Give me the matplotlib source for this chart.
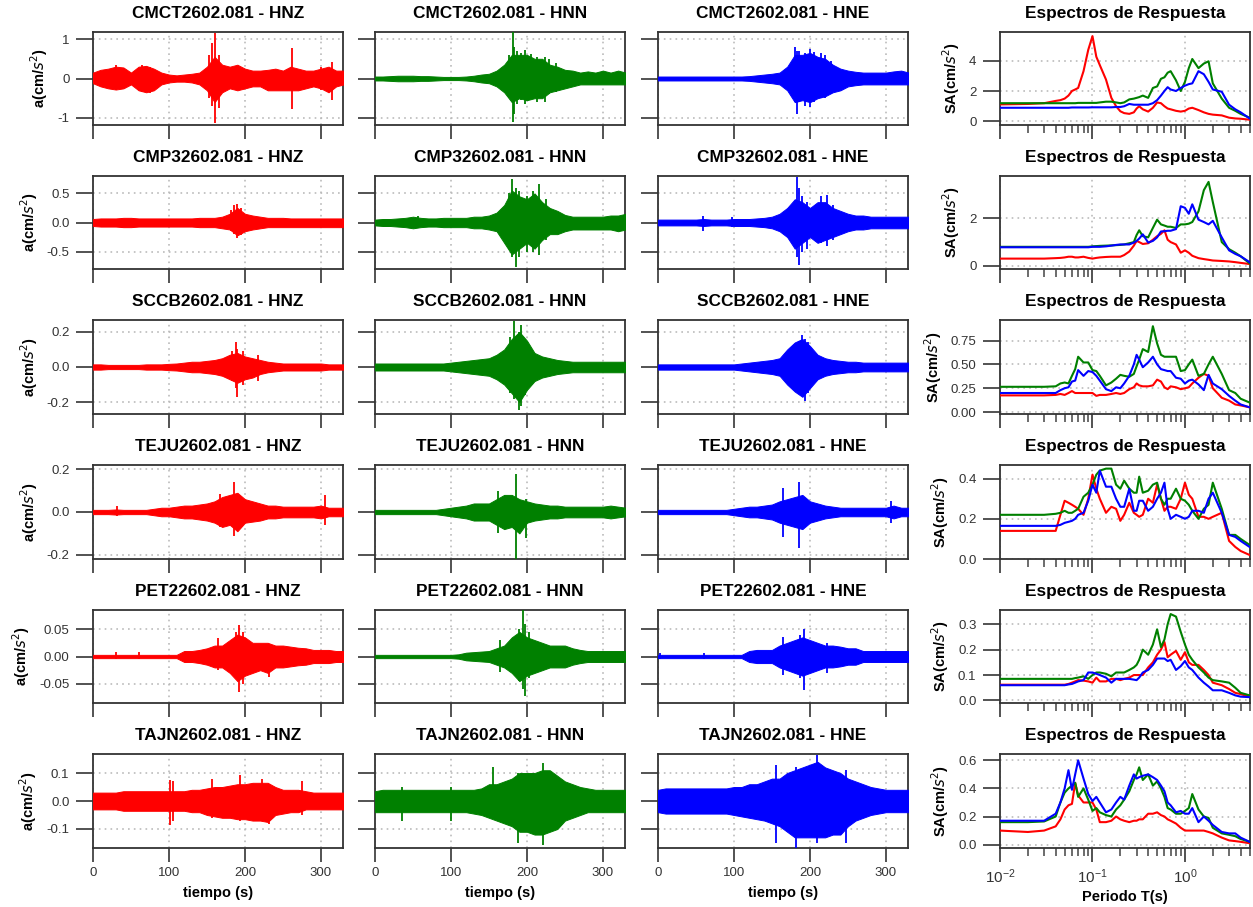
import numpy as np
import matplotlib
matplotlib.use("Agg")
import matplotlib.pyplot as plt
from matplotlib.ticker import FixedLocator, NullFormatter, LogFormatterMathtext

plt.rcParams['font.family'] = ['Liberation Sans', 'DejaVu Sans']

# ---------------- data ----------------
stations = ["CMCT2602.081", "CMP32602.081", "SCCB2602.081", "TEJU2602.081", "PET22602.081", "TAJN2602.081"]
components = ["HNZ", "HNN", "HNE"]
comp_colors = ["#FF0000", "#008000", "#0000FF"]

# time grid of the envelope readings (s)
t_grid = list(range(0, 331, 10))

# envelopes (upper / lower) and isolated peaks (time, upper, lower)
cmct_z_up = [0.15,0.22,0.25,0.30,0.28,0.15,0.30,0.32,0.25,0.15, 0.10,0.08,0.10,0.12,0.15,0.30,0.55,0.35,0.30,0.35, 0.25,0.20,0.20,0.22,0.25,0.20,0.30,0.25,0.20,0.20, 0.25,0.30,0.20,0.20]
cmct_z_lo = [-0.12,-0.20,-0.25,-0.28,-0.25,-0.15,-0.30,-0.35,-0.30,-0.15, -0.10,-0.08,-0.08,-0.10,-0.15,-0.30,-0.60,-0.35,-0.25,-0.30, -0.25,-0.20,-0.20,-0.30,-0.30,-0.30,-0.30,-0.30,-0.25,-0.20, -0.25,-0.35,-0.20,-0.15]
cmct_z_pk = [[30,65,75,153,157,160,166,262,300,315],
             [0.33,0.35,0.30,0.60,0.90,1.15,0.60,0.78,0.30,0.42],
             [-0.28,-0.35,-0.38,-0.50,-0.70,-1.12,-0.75,-0.78,-0.30,-0.55]]

cmct_n_up = [0.05,0.05,0.06,0.07,0.07,0.07,0.06,0.06,0.05,0.04, 0.04,0.04,0.05,0.07,0.10,0.12,0.20,0.35,0.60,0.60, 0.60,0.50,0.50,0.35,0.30,0.22,0.20,0.15,0.18,0.15, 0.20,0.15,0.20,0.15]
cmct_n_lo = [-0.05,-0.05,-0.06,-0.07,-0.07,-0.07,-0.06,-0.06,-0.05,-0.04, -0.04,-0.04,-0.05,-0.07,-0.10,-0.12,-0.20,-0.35,-0.60,-0.50, -0.55,-0.50,-0.50,-0.35,-0.30,-0.25,-0.20,-0.15,-0.15,-0.15, -0.15,-0.15,-0.15,-0.15]
cmct_n_pk = [[176,181,183,187,192,197,205,213,224,229,238],
             [0.60,1.20,0.80,0.70,0.65,0.72,0.62,0.55,0.55,0.50,0.40],
             [-0.50,-1.10,-0.90,-0.65,-0.55,-0.64,-0.50,-0.60,-0.60,-0.40,-0.35]]

cmct_e_up = [0.05,0.05,0.05,0.05,0.05,0.05,0.05,0.05,0.05,0.05, 0.05,0.05,0.06,0.08,0.10,0.12,0.15,0.30,0.60,0.60, 0.65,0.55,0.50,0.35,0.25,0.20,0.17,0.15,0.15,0.15, 0.15,0.18,0.20,0.15]
cmct_e_lo = [-0.05,-0.05,-0.05,-0.05,-0.05,-0.05,-0.05,-0.05,-0.05,-0.05, -0.05,-0.05,-0.06,-0.08,-0.10,-0.12,-0.15,-0.30,-0.60,-0.55, -0.60,-0.50,-0.45,-0.35,-0.30,-0.20,-0.17,-0.15,-0.15,-0.15, -0.15,-0.15,-0.15,-0.15]
cmct_e_pk = [[180,183,186,193,200,205,214,220,228],
             [0.80,0.70,0.70,0.65,0.75,0.68,0.64,0.60,0.45],
             [-0.60,-0.89,-0.60,-0.70,-0.72,-0.60,-0.50,-0.50,-0.40]]

cmp3_z_up = [0.06,0.07,0.07,0.07,0.08,0.08,0.07,0.07,0.07,0.07, 0.07,0.07,0.07,0.07,0.08,0.08,0.08,0.10,0.15,0.25, 0.15,0.12,0.10,0.08,0.08,0.08,0.07,0.07,0.07,0.07, 0.07,0.07,0.07,0.07]
cmp3_z_lo = [-0.06,-0.07,-0.07,-0.07,-0.08,-0.08,-0.07,-0.07,-0.07,-0.07, -0.07,-0.07,-0.07,-0.07,-0.08,-0.08,-0.08,-0.10,-0.12,-0.22, -0.15,-0.12,-0.10,-0.08,-0.08,-0.08,-0.08,-0.08,-0.08,-0.08, -0.08,-0.08,-0.08,-0.08]
cmp3_z_pk = [[182,186,190,195], [0.22,0.30,0.31,0.25], [-0.15,-0.20,-0.27,-0.22]]

cmp3_n_up = [0.05,0.06,0.06,0.07,0.08,0.10,0.08,0.07,0.07,0.08, 0.08,0.08,0.08,0.10,0.10,0.12,0.17,0.30,0.55,0.45, 0.40,0.50,0.35,0.25,0.20,0.13,0.10,0.10,0.10,0.10, 0.10,0.12,0.12,0.15]
cmp3_n_lo = [-0.05,-0.06,-0.06,-0.07,-0.08,-0.10,-0.08,-0.07,-0.07,-0.08, -0.08,-0.08,-0.08,-0.10,-0.10,-0.12,-0.15,-0.35,-0.55,-0.45, -0.35,-0.45,-0.30,-0.20,-0.20,-0.15,-0.12,-0.12,-0.12,-0.12, -0.12,-0.12,-0.15,-0.12]
cmp3_n_pk = [[57,176,180,185,190,200,208,216,225],
             [0.12,0.50,0.75,0.60,0.55,0.45,0.55,0.67,0.40],
             [-0.10,-0.45,-0.60,-0.77,-0.60,-0.50,-0.50,-0.56,-0.30]]

cmp3_e_up = [0.05,0.05,0.05,0.05,0.05,0.05,0.06,0.05,0.05,0.05, 0.06,0.06,0.06,0.07,0.08,0.10,0.15,0.25,0.40,0.35, 0.25,0.35,0.35,0.25,0.20,0.15,0.12,0.12,0.10,0.10, 0.10,0.10,0.10,0.10]
cmp3_e_lo = [-0.05,-0.05,-0.05,-0.05,-0.05,-0.05,-0.06,-0.05,-0.05,-0.05, -0.06,-0.06,-0.06,-0.07,-0.08,-0.10,-0.15,-0.25,-0.45,-0.35, -0.25,-0.35,-0.30,-0.25,-0.20,-0.15,-0.12,-0.12,-0.10,-0.10, -0.10,-0.10,-0.10,-0.10]
cmp3_e_pk = [[59,98,183,186,190,196,215,223,230],
             [0.12,0.10,0.78,0.60,0.45,0.35,0.45,0.47,0.30],
             [-0.15,-0.08,-0.60,-0.73,-0.50,-0.45,-0.35,-0.40,-0.30]]

sccb_z_up = [0.015,0.015,0.012,0.012,0.012,0.012,0.012,0.015,0.015,0.015, 0.018,0.020,0.025,0.030,0.030,0.035,0.040,0.050,0.070,0.080, 0.060,0.050,0.040,0.030,0.025,0.020,0.020,0.020,0.020,0.020, 0.020,0.015,0.015,0.015]
sccb_z_lo = [-0.015,-0.015,-0.012,-0.012,-0.012,-0.012,-0.012,-0.015,-0.015,-0.015, -0.018,-0.020,-0.025,-0.030,-0.030,-0.035,-0.040,-0.050,-0.070,-0.090, -0.070,-0.060,-0.040,-0.030,-0.025,-0.020,-0.020,-0.020,-0.020,-0.020, -0.020,-0.015,-0.015,-0.015]
sccb_z_pk = [[183,188,190,197,217], [0.09,0.14,0.10,0.09,0.07], [-0.08,-0.12,-0.17,-0.10,-0.08]]

sccb_n_up = [0.020,0.020,0.020,0.020,0.020,0.020,0.020,0.020,0.020,0.020, 0.025,0.030,0.035,0.040,0.045,0.050,0.070,0.100,0.160,0.200, 0.150,0.080,0.060,0.050,0.040,0.035,0.030,0.030,0.030,0.030, 0.030,0.030,0.030,0.030]
sccb_n_lo = [-0.020,-0.020,-0.020,-0.020,-0.020,-0.020,-0.020,-0.020,-0.020,-0.020, -0.025,-0.030,-0.035,-0.040,-0.045,-0.050,-0.070,-0.100,-0.150,-0.200, -0.130,-0.080,-0.060,-0.050,-0.040,-0.035,-0.030,-0.030,-0.030,-0.030, -0.030,-0.030,-0.030,-0.030]
sccb_n_pk = [[178,183,189,192,198], [0.17,0.26,0.20,0.24,0.16], [-0.15,-0.18,-0.245,-0.22,-0.16]]

sccb_e_up = [0.015,0.015,0.015,0.015,0.015,0.015,0.015,0.015,0.015,0.015, 0.015,0.020,0.025,0.030,0.035,0.040,0.050,0.100,0.140,0.160, 0.120,0.070,0.050,0.040,0.035,0.030,0.030,0.025,0.025,0.025, 0.025,0.025,0.025,0.025]
sccb_e_lo = [-0.015,-0.015,-0.015,-0.015,-0.015,-0.015,-0.015,-0.015,-0.015,-0.015, -0.015,-0.020,-0.025,-0.030,-0.035,-0.040,-0.050,-0.100,-0.140,-0.170, -0.120,-0.070,-0.050,-0.040,-0.035,-0.030,-0.030,-0.025,-0.025,-0.025, -0.025,-0.025,-0.025,-0.025]
sccb_e_pk = [[185,190,193,198], [0.15,0.18,0.16,0.14], [-0.15,-0.16,-0.195,-0.15]]

teju_z_up = [0.010,0.010,0.010,0.012,0.010,0.010,0.010,0.010,0.015,0.020, 0.020,0.025,0.030,0.030,0.035,0.040,0.050,0.070,0.080,0.090, 0.060,0.050,0.040,0.030,0.030,0.025,0.025,0.025,0.025,0.025, 0.030,0.020,0.020,0.020]
teju_z_lo = [-0.010,-0.010,-0.010,-0.012,-0.010,-0.010,-0.010,-0.010,-0.015,-0.020, -0.020,-0.025,-0.030,-0.030,-0.035,-0.040,-0.050,-0.070,-0.060,-0.090, -0.050,-0.045,-0.040,-0.030,-0.030,-0.025,-0.025,-0.025,-0.025,-0.025, -0.030,-0.020,-0.020,-0.020]
teju_z_pk = [[32,167,186,305], [0.03,0.083,0.14,0.08], [-0.02,-0.07,-0.113,-0.06]]

teju_n_up = [0.010,0.010,0.010,0.010,0.010,0.010,0.010,0.010,0.010,0.015, 0.020,0.025,0.030,0.040,0.040,0.040,0.060,0.080,0.080,0.060, 0.050,0.040,0.035,0.030,0.030,0.025,0.025,0.025,0.025,0.025, 0.025,0.030,0.025,0.020]
teju_n_lo = [-0.010,-0.010,-0.010,-0.010,-0.010,-0.010,-0.010,-0.010,-0.010,-0.015, -0.020,-0.025,-0.030,-0.040,-0.040,-0.040,-0.060,-0.080,-0.070,-0.100, -0.050,-0.040,-0.035,-0.030,-0.030,-0.025,-0.025,-0.025,-0.025,-0.025, -0.025,-0.030,-0.025,-0.020]
teju_n_pk = [[162,185,199], [0.1,0.178,0.06], [-0.1,-0.218,-0.12]]

teju_e_up = [0.010,0.010,0.010,0.010,0.010,0.010,0.010,0.010,0.010,0.010, 0.015,0.020,0.025,0.025,0.030,0.035,0.050,0.060,0.070,0.080, 0.050,0.040,0.030,0.025,0.020,0.020,0.020,0.020,0.020,0.020, 0.020,0.030,0.020,0.020]
teju_e_lo = [-0.010,-0.010,-0.010,-0.010,-0.010,-0.010,-0.010,-0.010,-0.010,-0.010, -0.015,-0.020,-0.025,-0.025,-0.030,-0.035,-0.050,-0.060,-0.070,-0.080, -0.050,-0.040,-0.030,-0.025,-0.020,-0.020,-0.020,-0.020,-0.020,-0.020, -0.020,-0.030,-0.020,-0.020]
teju_e_pk = [[164,185,306], [0.114,0.142,0.05], [-0.116,-0.167,-0.05]]

pet2_z_up = [0.003,0.003,0.003,0.003,0.003,0.003,0.003,0.003,0.003,0.003, 0.003,0.003,0.010,0.010,0.012,0.015,0.020,0.020,0.030,0.040, 0.035,0.025,0.025,0.025,0.020,0.020,0.018,0.016,0.015,0.012, 0.012,0.012,0.010,0.010]
pet2_z_lo = [-0.003,-0.003,-0.003,-0.003,-0.003,-0.003,-0.003,-0.003,-0.003,-0.003, -0.003,-0.003,-0.010,-0.010,-0.012,-0.015,-0.020,-0.020,-0.030,-0.045, -0.035,-0.030,-0.025,-0.030,-0.020,-0.020,-0.018,-0.016,-0.015,-0.012, -0.012,-0.012,-0.010,-0.010]
pet2_z_pk = [[30,60,165,188,192,197,232], [0.008,0.008,0.033,0.045,0.057,0.045,0.02], [-0.005,-0.005,-0.025,-0.04,-0.064,-0.05,-0.037]]

pet2_n_up = [0.003,0.003,0.003,0.003,0.003,0.003,0.003,0.003,0.003,0.003, 0.003,0.004,0.007,0.008,0.009,0.010,0.015,0.020,0.035,0.045, 0.035,0.030,0.025,0.020,0.020,0.020,0.015,0.012,0.010,0.010, 0.010,0.010,0.010,0.010]
pet2_n_lo = [-0.003,-0.003,-0.003,-0.003,-0.003,-0.003,-0.003,-0.003,-0.003,-0.003, -0.003,-0.004,-0.007,-0.008,-0.009,-0.010,-0.015,-0.020,-0.030,-0.045, -0.035,-0.030,-0.025,-0.020,-0.020,-0.020,-0.015,-0.012,-0.010,-0.010, -0.010,-0.010,-0.010,-0.010]
pet2_n_pk = [[165,190,195,197,203], [0.03,0.05,0.087,0.06,0.045], [-0.028,-0.045,-0.06,-0.073,-0.04]]

pet2_e_up = [0.003,0.003,0.003,0.003,0.003,0.003,0.003,0.003,0.003,0.003, 0.003,0.003,0.010,0.012,0.012,0.012,0.020,0.025,0.030,0.035, 0.030,0.025,0.020,0.020,0.018,0.015,0.015,0.010,0.010,0.010, 0.010,0.010,0.010,0.010]
pet2_e_lo = [-0.003,-0.003,-0.003,-0.003,-0.003,-0.003,-0.003,-0.003,-0.003,-0.003, -0.003,-0.003,-0.010,-0.012,-0.012,-0.012,-0.020,-0.025,-0.030,-0.035, -0.030,-0.025,-0.020,-0.020,-0.018,-0.015,-0.015,-0.010,-0.010,-0.010, -0.010,-0.010,-0.010,-0.010]
pet2_e_pk = [[3,60,165,187,192,223], [0.007,0.006,0.035,0.04,0.05,0.025], [-0.005,-0.005,-0.034,-0.04,-0.061,-0.03]]

tajn_z_up = [0.030,0.030,0.030,0.030,0.035,0.035,0.035,0.035,0.035,0.035, 0.035,0.035,0.035,0.040,0.040,0.045,0.050,0.050,0.055,0.060, 0.060,0.065,0.065,0.065,0.050,0.040,0.040,0.040,0.035,0.030, 0.030,0.030,0.030,0.030]
tajn_z_lo = [-0.030,-0.030,-0.030,-0.030,-0.035,-0.035,-0.035,-0.035,-0.035,-0.035, -0.035,-0.035,-0.035,-0.040,-0.040,-0.050,-0.055,-0.060,-0.060,-0.065, -0.065,-0.070,-0.070,-0.075,-0.050,-0.045,-0.040,-0.040,-0.030,-0.030, -0.030,-0.030,-0.030,-0.030]
tajn_z_pk = [[101,105,156,193,222,232,275], [0.074,0.07,0.08,0.094,0.08,0.06,0.07], [-0.087,-0.07,-0.06,-0.07,-0.06,-0.081,-0.05]]

tajn_n_up = [0.035,0.040,0.040,0.040,0.040,0.040,0.040,0.040,0.040,0.040, 0.040,0.040,0.040,0.040,0.045,0.060,0.060,0.070,0.080,0.100, 0.100,0.100,0.110,0.110,0.090,0.070,0.060,0.050,0.045,0.040, 0.040,0.040,0.040,0.040]
tajn_n_lo = [-0.040,-0.040,-0.040,-0.040,-0.040,-0.040,-0.040,-0.040,-0.040,-0.040, -0.040,-0.040,-0.040,-0.045,-0.050,-0.060,-0.070,-0.080,-0.090,-0.110, -0.110,-0.120,-0.120,-0.110,-0.100,-0.070,-0.060,-0.050,-0.040,-0.040, -0.040,-0.040,-0.040,-0.040]
tajn_n_pk = [[35,100,155,188,221], [0.05,0.05,0.12,0.1,0.136], [-0.07,-0.07,-0.06,-0.149,-0.158]]

tajn_e_up = [0.040,0.045,0.045,0.045,0.045,0.045,0.045,0.045,0.045,0.045, 0.050,0.050,0.060,0.060,0.070,0.080,0.080,0.100,0.110,0.120, 0.130,0.140,0.120,0.110,0.100,0.080,0.070,0.060,0.050,0.045, 0.040,0.040,0.040,0.040]
tajn_e_lo = [-0.040,-0.045,-0.045,-0.045,-0.045,-0.045,-0.045,-0.045,-0.045,-0.045, -0.050,-0.055,-0.060,-0.065,-0.070,-0.080,-0.090,-0.110,-0.130,-0.130, -0.130,-0.130,-0.130,-0.120,-0.120,-0.090,-0.070,-0.060,-0.050,-0.045, -0.040,-0.040,-0.040,-0.040]
tajn_e_pk = [[155,181,209,248], [0.13,0.12,0.165,0.11], [-0.149,-0.168,-0.15,-0.15]]

# response spectra: periods (s) and SA values (cm/s^2)
periods = [0.01,0.02,0.03,0.04,0.045,0.05,0.055,0.06,0.065,0.07,
           0.08,0.09,0.1,0.11,0.12,0.14,0.16,0.18,0.2,0.22,
           0.25,0.28,0.3,0.32,0.35,0.4,0.45,0.5,0.55,0.6,
           0.65,0.7,0.8,0.9,1.0,1.1,1.2,1.4,1.6,1.8,
           2.0,2.5,3.0,3.5,4.0,5.0]

sa_cmct_z = [1.12,1.15,1.2,1.35,1.4,1.5,1.7,2.0,2.1,2.2, 3.3,4.7,5.6,4.25,3.7,2.75,1.55,1.0,0.67,0.55, 0.5,0.6,0.85,1.0,0.8,0.65,0.9,1.25,1.2,1.0, 0.85,0.8,0.7,0.65,0.7,0.85,0.9,0.75,0.6,0.5, 0.45,0.4,0.25,0.2,0.18,0.12]
sa_cmct_n = [1.2,1.2,1.2,1.2,1.2,1.2,1.2,1.2,1.2,1.22, 1.22,1.22,1.22,1.22,1.25,1.3,1.3,1.25,1.2,1.25, 1.45,1.5,1.55,1.6,1.7,1.55,2.2,2.3,2.8,2.9, 3.2,3.3,2.7,2.0,2.6,3.5,4.1,3.5,3.8,3.95, 2.5,1.5,0.9,0.7,0.5,0.25]
sa_cmct_e = [0.9,0.9,0.9,0.9,0.9,0.9,0.9,0.92,0.92,0.92, 0.92,0.92,0.93,0.93,0.93,0.93,0.93,0.95,0.95,1.0, 1.15,1.1,1.1,1.1,1.1,1.1,1.2,1.4,1.7,2.0, 2.25,2.1,2.0,2.2,2.35,2.45,2.5,3.3,3.1,2.6, 2.1,1.95,1.1,0.8,0.6,0.2]

sa_cmp3_z = [0.3,0.3,0.3,0.32,0.33,0.35,0.38,0.38,0.35,0.35, 0.38,0.33,0.3,0.33,0.35,0.37,0.38,0.38,0.38,0.45, 0.6,0.85,1.05,1.0,0.92,0.95,1.1,1.25,1.35,1.5, 1.1,1.0,0.9,0.55,0.65,0.55,0.42,0.32,0.28,0.25, 0.22,0.2,0.18,0.15,0.12,0.07]
sa_cmp3_n = [0.8,0.8,0.8,0.8,0.8,0.8,0.8,0.8,0.8,0.8, 0.8,0.8,0.82,0.83,0.84,0.85,0.86,0.87,0.88,0.9, 0.95,1.0,1.3,1.5,1.25,1.2,1.6,1.95,1.75,1.7, 1.65,1.65,1.6,1.75,1.75,1.78,1.85,2.3,3.2,3.55, 2.7,1.0,0.7,0.55,0.4,0.1]
sa_cmp3_e = [0.78,0.78,0.78,0.78,0.78,0.78,0.78,0.78,0.78,0.78, 0.78,0.78,0.8,0.8,0.8,0.82,0.85,0.88,0.9,0.9, 0.9,0.98,1.05,1.15,1.33,0.98,1.05,1.2,1.45,1.46, 1.48,1.48,1.55,2.52,2.45,2.2,2.6,1.95,1.85,1.75, 1.9,1.2,0.65,0.5,0.4,0.15]

sa_sccb_z = [0.175,0.175,0.175,0.18,0.19,0.18,0.2,0.22,0.2,0.2, 0.2,0.2,0.2,0.17,0.18,0.18,0.19,0.2,0.19,0.2, 0.24,0.26,0.3,0.28,0.27,0.27,0.28,0.34,0.32,0.26, 0.24,0.27,0.26,0.24,0.25,0.26,0.3,0.36,0.4,0.38, 0.25,0.15,0.12,0.08,0.07,0.05]
sa_sccb_n = [0.265,0.265,0.265,0.27,0.3,0.31,0.3,0.38,0.45,0.58, 0.52,0.52,0.44,0.43,0.38,0.28,0.31,0.35,0.39,0.38, 0.37,0.4,0.48,0.55,0.66,0.63,0.9,0.72,0.6,0.58, 0.58,0.58,0.58,0.43,0.44,0.5,0.55,0.38,0.4,0.5, 0.58,0.4,0.23,0.2,0.14,0.1]
sa_sccb_e = [0.2,0.2,0.2,0.2,0.23,0.25,0.26,0.32,0.33,0.44, 0.38,0.43,0.42,0.38,0.33,0.24,0.22,0.26,0.25,0.3, 0.38,0.5,0.6,0.55,0.47,0.52,0.58,0.5,0.45,0.44, 0.43,0.43,0.36,0.35,0.3,0.33,0.34,0.29,0.23,0.39, 0.3,0.24,0.17,0.12,0.08,0.05]

sa_teju_z = [0.14,0.14,0.14,0.14,0.22,0.29,0.28,0.27,0.26,0.25, 0.22,0.3,0.42,0.35,0.3,0.23,0.26,0.25,0.19,0.22, 0.28,0.23,0.22,0.21,0.22,0.3,0.28,0.37,0.3,0.24, 0.26,0.26,0.25,0.3,0.38,0.32,0.3,0.21,0.21,0.2, 0.21,0.23,0.09,0.06,0.04,0.02]
sa_teju_n = [0.22,0.22,0.22,0.225,0.23,0.24,0.23,0.23,0.24,0.25, 0.31,0.33,0.37,0.42,0.44,0.45,0.45,0.37,0.35,0.39, 0.35,0.33,0.33,0.41,0.33,0.34,0.37,0.38,0.3,0.27, 0.3,0.3,0.35,0.3,0.29,0.27,0.24,0.2,0.25,0.27, 0.38,0.25,0.12,0.12,0.1,0.07]
sa_teju_e = [0.165,0.165,0.165,0.165,0.17,0.18,0.185,0.19,0.2,0.22, 0.23,0.29,0.37,0.33,0.44,0.36,0.36,0.3,0.26,0.26, 0.35,0.24,0.24,0.29,0.29,0.24,0.26,0.3,0.33,0.38, 0.25,0.2,0.22,0.21,0.2,0.21,0.24,0.24,0.23,0.3, 0.33,0.23,0.12,0.11,0.09,0.06]

sa_pet2_z = [0.062,0.062,0.062,0.062,0.062,0.062,0.065,0.07,0.075,0.08, 0.078,0.075,0.07,0.09,0.075,0.075,0.085,0.085,0.08,0.085, 0.09,0.1,0.1,0.1,0.1,0.13,0.15,0.18,0.2,0.23, 0.17,0.18,0.195,0.16,0.19,0.15,0.14,0.14,0.12,0.1, 0.07,0.06,0.045,0.03,0.025,0.015]
sa_pet2_n = [0.085,0.085,0.085,0.085,0.085,0.085,0.085,0.085,0.088,0.09, 0.095,0.085,0.1,0.11,0.11,0.105,0.095,0.11,0.11,0.11, 0.12,0.13,0.14,0.16,0.2,0.18,0.22,0.28,0.21,0.24, 0.3,0.34,0.33,0.27,0.22,0.18,0.16,0.13,0.11,0.09, 0.08,0.075,0.07,0.05,0.03,0.02]
sa_pet2_e = [0.06,0.06,0.06,0.06,0.06,0.06,0.063,0.065,0.07,0.075, 0.08,0.11,0.11,0.105,0.1,0.09,0.07,0.085,0.085,0.085, 0.085,0.082,0.08,0.09,0.11,0.12,0.14,0.165,0.165,0.165, 0.155,0.16,0.12,0.135,0.155,0.13,0.12,0.09,0.07,0.055, 0.04,0.04,0.03,0.02,0.015,0.013]

sa_tajn_z = [0.1,0.09,0.1,0.13,0.18,0.25,0.28,0.29,0.44,0.35, 0.3,0.3,0.3,0.25,0.16,0.16,0.17,0.2,0.18,0.17, 0.16,0.17,0.17,0.18,0.18,0.22,0.22,0.23,0.21,0.2, 0.18,0.17,0.15,0.12,0.1,0.1,0.1,0.1,0.1,0.09, 0.08,0.05,0.03,0.025,0.02,0.01]
sa_tajn_n = [0.16,0.16,0.165,0.2,0.3,0.37,0.4,0.42,0.44,0.34, 0.4,0.32,0.24,0.26,0.23,0.21,0.2,0.25,0.28,0.32, 0.38,0.46,0.5,0.55,0.46,0.5,0.42,0.45,0.4,0.34, 0.26,0.25,0.22,0.22,0.24,0.26,0.36,0.25,0.2,0.19, 0.12,0.08,0.07,0.06,0.04,0.02]
sa_tajn_e = [0.17,0.17,0.17,0.22,0.3,0.4,0.53,0.39,0.5,0.6, 0.47,0.36,0.31,0.34,0.3,0.23,0.25,0.3,0.34,0.32, 0.42,0.5,0.47,0.48,0.49,0.5,0.48,0.46,0.42,0.38, 0.3,0.28,0.23,0.24,0.22,0.22,0.26,0.16,0.2,0.17, 0.14,0.09,0.08,0.08,0.05,0.02]

# axis ticks per row
acc_ticks = [[-1, 0, 1], [-0.5, 0.0, 0.5], [-0.2, 0.0, 0.2], [-0.2, 0.0, 0.2], [-0.05, 0.00, 0.05], [-0.1, 0.0, 0.1]]
acc_ticklabels = [["-1", "0", "1"], ["-0.5", "0.0", "0.5"], ["-0.2", "0.0", "0.2"], ["-0.2", "0.0", "0.2"], ["-0.05", "0.00", "0.05"], ["-0.1", "0.0", "0.1"]]
acc_lim = [1.18, 0.80, 0.268, 0.22, 0.085, 0.168]
sa_ticks = [[0, 2, 4], [0, 2], [0, 0.25, 0.5, 0.75], [0.0, 0.2, 0.4], [0.0, 0.1, 0.2, 0.3], [0.0, 0.2, 0.4, 0.6]]
sa_ticklabels = [["0", "2", "4"], ["0", "2"], ["0.00", "0.25", "0.50", "0.75"], ["0.0", "0.2", "0.4"], ["0.0", "0.1", "0.2", "0.3"], ["0.0", "0.2", "0.4", "0.6"]]
sa_lim = [(-0.23, 5.87), (-0.14, 3.8), (-0.02, 0.965), (0.0, 0.468), (-0.01, 0.356), (-0.024, 0.645)]
time_ticks = [0, 100, 200, 300]

traces = [
    [(cmct_z_up, cmct_z_lo, cmct_z_pk), (cmct_n_up, cmct_n_lo, cmct_n_pk), (cmct_e_up, cmct_e_lo, cmct_e_pk)],
    [(cmp3_z_up, cmp3_z_lo, cmp3_z_pk), (cmp3_n_up, cmp3_n_lo, cmp3_n_pk), (cmp3_e_up, cmp3_e_lo, cmp3_e_pk)],
    [(sccb_z_up, sccb_z_lo, sccb_z_pk), (sccb_n_up, sccb_n_lo, sccb_n_pk), (sccb_e_up, sccb_e_lo, sccb_e_pk)],
    [(teju_z_up, teju_z_lo, teju_z_pk), (teju_n_up, teju_n_lo, teju_n_pk), (teju_e_up, teju_e_lo, teju_e_pk)],
    [(pet2_z_up, pet2_z_lo, pet2_z_pk), (pet2_n_up, pet2_n_lo, pet2_n_pk), (pet2_e_up, pet2_e_lo, pet2_e_pk)],
    [(tajn_z_up, tajn_z_lo, tajn_z_pk), (tajn_n_up, tajn_n_lo, tajn_n_pk), (tajn_e_up, tajn_e_lo, tajn_e_pk)],
]
spectra = [
    [sa_cmct_z, sa_cmct_n, sa_cmct_e],
    [sa_cmp3_z, sa_cmp3_n, sa_cmp3_e],
    [sa_sccb_z, sa_sccb_n, sa_sccb_e],
    [sa_teju_z, sa_teju_n, sa_teju_e],
    [sa_pet2_z, sa_pet2_n, sa_pet2_e],
    [sa_tajn_z, sa_tajn_n, sa_tajn_e],
]

# ---------------- layout ----------------
W, H = 1253, 907
fig = plt.figure(figsize=(W / 100, H / 100), dpi=100)
fig.patch.set_facecolor("white")

col_px = [(93, 343), (375, 625), (658, 908)]
spec_px = (1000, 1250)
row_px = [(32, 125), (176, 269), (320, 414), (465, 559), (610, 703), (754, 848)]

def rect(x0, x1, y0, y1):
    return [x0 / W, 1 - y1 / H, (x1 - x0) / W, (y1 - y0) / H]

FRAME = "#333333"
TICKC = "#444444"
LABC = "#333333"
GRIDC = "#BBBBBB"

def style(ax):
    for s in ax.spines.values():
        s.set_color(FRAME)
        s.set_linewidth(1.3)
    ax.tick_params(axis="x", which="major", direction="out", length=10, width=1.3,
                   color=TICKC, labelcolor=LABC, labelsize=9.5, pad=4)
    ax.tick_params(axis="y", which="major", direction="out", length=12, width=1.3,
                   color=TICKC, labelcolor=LABC, labelsize=9.5, pad=5)
    ax.set_axisbelow(True)

nrows = len(stations)
for r in range(nrows):
    y0, y1 = row_px[r]
    for c in range(3):
        x0, x1 = col_px[c]
        ax = fig.add_axes(rect(x0, x1, y0, y1))
        up, lo, pk = traces[r][c]
        col = comp_colors[c]
        ax.fill_between(t_grid, lo, up, color=col, lw=0.7, zorder=3)
        ax.vlines(pk[0], pk[2], pk[1], color=col, lw=1.3, zorder=3)
        ax.set_xlim(0, 329)
        ax.set_ylim(-acc_lim[r], acc_lim[r])
        ax.set_xticks(time_ticks)
        ax.set_yticks(acc_ticks[r])
        ax.grid(True, color=GRIDC, linestyle=(0, (1, 2.5)), lw=1.2)
        style(ax)
        if c == 0:
            ax.set_yticklabels(acc_ticklabels[r])
            ax.set_ylabel(r"a(cm/$s^2$)", fontsize=10.5, fontweight="bold", labelpad=5)
        else:
            ax.set_yticklabels([])
        if r == nrows - 1:
            ax.set_xticklabels([str(v) for v in time_ticks])
            ax.set_xlabel("tiempo (s)", fontsize=10.5, fontweight="bold", labelpad=5)
        else:
            ax.set_xticklabels([])
        ax.set_title(f"{stations[r]} - {components[c]}", fontsize=12.4,
                     fontweight="bold", pad=10)

    # response spectra
    ax = fig.add_axes(rect(spec_px[0], spec_px[1], y0, y1))
    for c in range(3):
        ax.plot(periods, spectra[r][c], color=comp_colors[c], lw=1.5, zorder=3)
    ax.set_xscale("log")
    ax.set_xlim(0.01, 5.05)
    ax.set_ylim(*sa_lim[r])
    ax.xaxis.set_major_locator(FixedLocator([0.01, 0.1, 1.0]))
    minor = [m * d for d in (0.01, 0.1, 1.0) for m in range(2, 10)]
    ax.xaxis.set_minor_locator(FixedLocator(minor))
    ax.xaxis.set_minor_formatter(NullFormatter())
    ax.set_yticks(sa_ticks[r])
    ax.grid(True, which="major", color=GRIDC, linestyle=(0, (1, 2.5)), lw=1.2)
    style(ax)
    ax.tick_params(axis="x", which="minor", direction="out", length=6, width=1.1, color=TICKC)
    ax.set_yticklabels(sa_ticklabels[r])
    ax.set_ylabel(r"SA(cm/$s^2$)", fontsize=10.5, fontweight="bold", labelpad=5)
    if r == nrows - 1:
        ax.xaxis.set_major_formatter(LogFormatterMathtext())
        ax.tick_params(axis="x", which="major", labelsize=11)
        ax.set_xlabel("Periodo T(s)", fontsize=10.5, fontweight="bold", labelpad=3)
    else:
        ax.set_xticklabels([])
    ax.set_title("Espectros de Respuesta", fontsize=12.4, fontweight="bold", pad=10)

fig.savefig("out.png", dpi=100, facecolor="white")
